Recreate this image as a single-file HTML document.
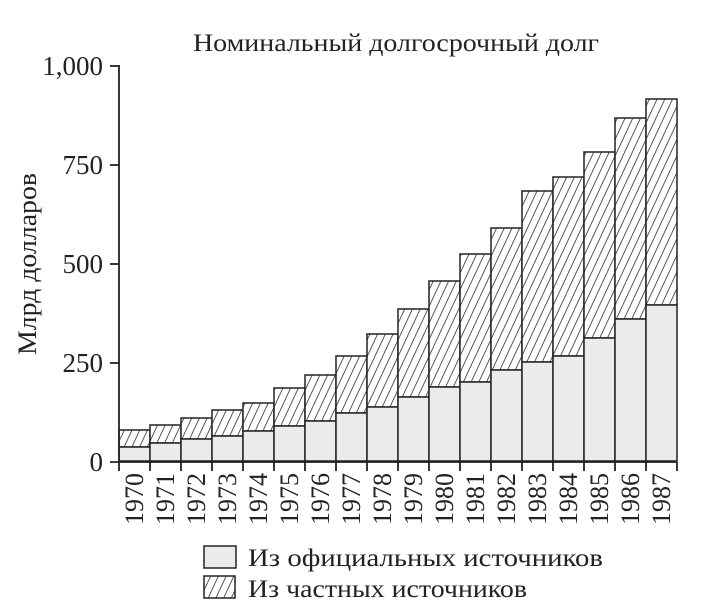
<!DOCTYPE html>
<html><head><meta charset="utf-8"><style>html,body{margin:0;padding:0;background:#fff}svg{display:block}</style></head>
<body>
<svg width="701" height="616" viewBox="0 0 701 616" xmlns="http://www.w3.org/2000/svg" font-family="Liberation Serif, serif" fill="#222">
<defs>
<pattern id="h" patternUnits="userSpaceOnUse" width="7" height="7" patternTransform="rotate(25)">
<rect width="7" height="7" fill="#fff"/>
<line x1="0" y1="0" x2="0" y2="7" stroke="#222" stroke-width="1.5"/>
</pattern>
</defs>
<text x="396" y="51" font-size="25" text-anchor="middle" textLength="406" lengthAdjust="spacingAndGlyphs">Номинальный долгосрочный долг</text>
<text transform="translate(36,264) rotate(-90)" font-size="26" text-anchor="middle" textLength="182" lengthAdjust="spacingAndGlyphs">Млрд долларов</text>
<g font-size="27" text-anchor="end">
<text x="103" y="75">1,000</text>
<text x="103" y="174">750</text>
<text x="103" y="273">500</text>
<text x="103" y="372">250</text>
<text x="103" y="471">0</text>
</g>
<g stroke="#222" stroke-width="1.5">
<rect x="119" y="430" width="31" height="17" fill="url(#h)"/><rect x="119" y="447" width="31" height="14" fill="#ebebeb"/>
<rect x="150" y="425" width="31" height="18" fill="url(#h)"/><rect x="150" y="443" width="31" height="18" fill="#ebebeb"/>
<rect x="181" y="418" width="31" height="21" fill="url(#h)"/><rect x="181" y="439" width="31" height="22" fill="#ebebeb"/>
<rect x="212" y="410" width="31" height="26" fill="url(#h)"/><rect x="212" y="436" width="31" height="25" fill="#ebebeb"/>
<rect x="243" y="403" width="31" height="28" fill="url(#h)"/><rect x="243" y="431" width="31" height="30" fill="#ebebeb"/>
<rect x="274" y="388" width="31" height="38" fill="url(#h)"/><rect x="274" y="426" width="31" height="35" fill="#ebebeb"/>
<rect x="305" y="375" width="31" height="46" fill="url(#h)"/><rect x="305" y="421" width="31" height="40" fill="#ebebeb"/>
<rect x="336" y="356" width="31" height="57" fill="url(#h)"/><rect x="336" y="413" width="31" height="48" fill="#ebebeb"/>
<rect x="367" y="334" width="31" height="73" fill="url(#h)"/><rect x="367" y="407" width="31" height="54" fill="#ebebeb"/>
<rect x="398" y="309" width="31" height="88" fill="url(#h)"/><rect x="398" y="397" width="31" height="64" fill="#ebebeb"/>
<rect x="429" y="281" width="31" height="106" fill="url(#h)"/><rect x="429" y="387" width="31" height="74" fill="#ebebeb"/>
<rect x="460" y="254" width="31" height="128" fill="url(#h)"/><rect x="460" y="382" width="31" height="79" fill="#ebebeb"/>
<rect x="491" y="228" width="31" height="142" fill="url(#h)"/><rect x="491" y="370" width="31" height="91" fill="#ebebeb"/>
<rect x="522" y="191" width="31" height="171" fill="url(#h)"/><rect x="522" y="362" width="31" height="99" fill="#ebebeb"/>
<rect x="553" y="177" width="31" height="179" fill="url(#h)"/><rect x="553" y="356" width="31" height="105" fill="#ebebeb"/>
<rect x="584" y="152" width="31" height="186" fill="url(#h)"/><rect x="584" y="338" width="31" height="123" fill="#ebebeb"/>
<rect x="615" y="118" width="31" height="201" fill="url(#h)"/><rect x="615" y="319" width="31" height="142" fill="#ebebeb"/>
<rect x="646" y="99" width="31" height="206" fill="url(#h)"/><rect x="646" y="305" width="31" height="156" fill="#ebebeb"/>
</g>
<g stroke="#222" stroke-width="1.8" fill="none">
<line x1="119" y1="65" x2="119" y2="462"/>
<line x1="110" y1="462" x2="677" y2="462"/>
<line x1="110" y1="66" x2="119" y2="66"/>
<line x1="110" y1="165" x2="119" y2="165"/>
<line x1="110" y1="264" x2="119" y2="264"/>
<line x1="110" y1="363" x2="119" y2="363"/>
<path d="M119 462v9M150 462v9M181 462v9M212 462v9M243 462v9M274 462v9M305 462v9M336 462v9M367 462v9M398 462v9M429 462v9M460 462v9M491 462v9M522 462v9M553 462v9M584 462v9M615 462v9M646 462v9M677 462v9"/>
</g>
<g font-size="26" text-anchor="end">
<text transform="translate(143,473) rotate(-90)">1970</text>
<text transform="translate(174,473) rotate(-90)">1971</text>
<text transform="translate(205,473) rotate(-90)">1972</text>
<text transform="translate(236,473) rotate(-90)">1973</text>
<text transform="translate(267,473) rotate(-90)">1974</text>
<text transform="translate(298,473) rotate(-90)">1975</text>
<text transform="translate(329,473) rotate(-90)">1976</text>
<text transform="translate(360,473) rotate(-90)">1977</text>
<text transform="translate(391,473) rotate(-90)">1978</text>
<text transform="translate(422,473) rotate(-90)">1979</text>
<text transform="translate(453,473) rotate(-90)">1980</text>
<text transform="translate(484,473) rotate(-90)">1981</text>
<text transform="translate(515,473) rotate(-90)">1982</text>
<text transform="translate(546,473) rotate(-90)">1983</text>
<text transform="translate(577,473) rotate(-90)">1984</text>
<text transform="translate(608,473) rotate(-90)">1985</text>
<text transform="translate(639,473) rotate(-90)">1986</text>
<text transform="translate(670,473) rotate(-90)">1987</text>
</g>
<rect x="204" y="546" width="32" height="22" fill="#ebebeb" stroke="#222" stroke-width="1.5"/>
<rect x="204" y="576" width="31" height="22" fill="url(#h)" stroke="#222" stroke-width="1.5"/>
<text x="248" y="566" font-size="25" textLength="355" lengthAdjust="spacingAndGlyphs">Из официальных источников</text>
<text x="248" y="597" font-size="25" textLength="279" lengthAdjust="spacingAndGlyphs">Из частных источников</text>
</svg>
</body></html>
